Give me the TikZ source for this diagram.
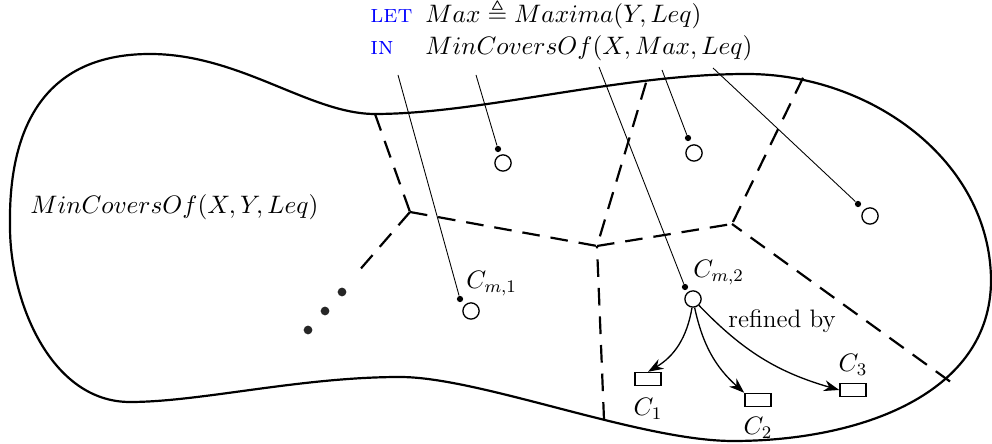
\documentclass[tikz,border=0pt]{standalone}
\usepackage{fix-cm}
\usepackage{amssymb}
\usetikzlibrary{arrows.meta,positioning}

\begin{document}
\begin{tikzpicture}[>={Stealth[length=7pt,width=5pt]},
  font=\fontsize{11.5}{14}\selectfont,
  cell/.style={line width=1pt,dash pattern=on 8pt off 5pt},
  site/.style={circle,draw,semithick,inner sep=0pt,minimum size=2.6mm},
  pin/.style={circle,fill,inner sep=0pt,minimum size=1mm},
  blob/.style={circle,fill=black!85,inner sep=0pt,minimum size=1.4mm},
  cover/.style={draw,semithick,inner sep=0pt,minimum width=4.2mm,minimum height=2.1mm},
  txt/.style={inner sep=0pt,anchor=base west}]
  \useasboundingbox (0,0) rectangle (15.872,7.104);
  % Outer region
  \draw[line width=1pt] (0.16,3.472)
    .. controls (0.128,5.184) and (0.80,6.24) .. (2.40,6.24)
    .. controls (3.84,6.24) and (4.96,5.28) .. (6.00,5.28)
    .. controls (7.68,5.28) and (9.92,5.92) .. (11.952,5.92)
    .. controls (13.92,5.92) and (15.84,4.544) .. (15.856,2.624)
    .. controls (15.856,0.80) and (13.76,0.048) .. (11.728,0.048)
    .. controls (10.24,0.048) and (7.68,1.072) .. (6.40,1.072)
    .. controls (4.80,1.072) and (3.20,0.672) .. (2.08,0.672)
    .. controls (0.80,0.672) and (0.16,2.304) .. cycle;
  \node[txt] (whole) at (0.48,3.68) {$MinCoversOf(X, Y, Leq)$};
  % Cells
  \coordinate (va) at (6.56,3.712);
  \coordinate (vb) at (9.552,3.168);
  \coordinate (vc) at (11.712,3.52);
  \coordinate (ea) at (6.00,5.28);
  \coordinate (eb) at (10.336,5.78);
  \coordinate (ec) at (9.664,0.39);
  \coordinate (ed) at (12.848,5.86);
  \coordinate (ee) at (15.20,1.00);
  \draw[cell] (ea) -- (va);
  \draw[cell] (va) -- (5.712,2.736);
  \draw[cell] (va) -- (vb);
  \draw[cell] (vb) -- (vc);
  \draw[cell] (eb) -- (vb);
  \draw[cell] (ec) -- (vb);
  \draw[cell] (ed) -- (vc);
  \draw[cell] (ee) -- (vc);
  \node[blob] (e1) at (5.472,2.432) {};
  \node[blob] (e2) at (5.200,2.128) {};
  \node[blob] (e3) at (4.928,1.824) {};
  % Maxima
  \node[site] (o1) at (8.048,4.496) {};
  \node[site] (o2) at (11.104,4.656) {};
  \node[site] (o3) at (13.920,3.648) {};
  \node[site] (cm1) at (7.536,2.128) {};
  \node[site] (cm2) at (11.088,2.320) {};
  \node[pin] (p1) at (7.968,4.720) {};
  \node[pin] (p2) at (11.008,4.896) {};
  \node[pin] (p3) at (13.728,3.840) {};
  \node[pin] (pm1) at (7.360,2.320) {};
  \node[pin] (pm2) at (10.960,2.512) {};
  \node[txt] (cm1l) at (7.456,2.480) {$C_{m,1}$};
  \node[txt] (cm2l) at (11.088,2.656) {$C_{m,2}$};
  % Definition
  \node[txt,blue] (kwlet) at (5.92,6.745) {\textsc{let}};
  \node[txt] (deflet) at (6.80,6.745) {$Max \triangleq Maxima(Y, Leq)$};
  \node[txt,blue] (kwin) at (5.92,6.224) {\textsc{in}};
  \node[txt] (defin) at (6.80,6.224) {$MinCoversOf(X, Max, Leq)$};
  \coordinate (s1) at (6.368,5.904);
  \coordinate (s2) at (7.616,5.904);
  \coordinate (s3) at (9.584,6.032);
  \coordinate (s4) at (10.592,5.984);
  \coordinate (s5) at (11.408,6.016);
  \draw (s1) -- (pm1);
  \draw (s2) -- (p1);
  \draw (s3) -- (pm2);
  \draw (s4) -- (p2);
  \draw (s5) -- (p3);
  % Refinement
  \node[cover] (c1) at (10.368,1.040) {};
  \node[cover] (c2) at (12.128,0.704) {};
  \node[cover] (c3) at (13.648,0.864) {};
  \node[below=0.7mm of c1] (c1l) {$C_1$};
  \node[below=0.4mm of c2] (c2l) {$C_2$};
  \node[above=0mm of c3] (c3l) {$C_3$};
  \node[txt] (ref) at (11.648,1.856) {refined by};
  \draw[->,semithick] (cm2) to[bend left=25] (c1.north);
  \draw[->,semithick] (cm2) to[bend right=18] (c2.north west);
  \draw[->,semithick] (cm2) to[bend right=15] (c3.west);
\end{tikzpicture}
\end{document}
